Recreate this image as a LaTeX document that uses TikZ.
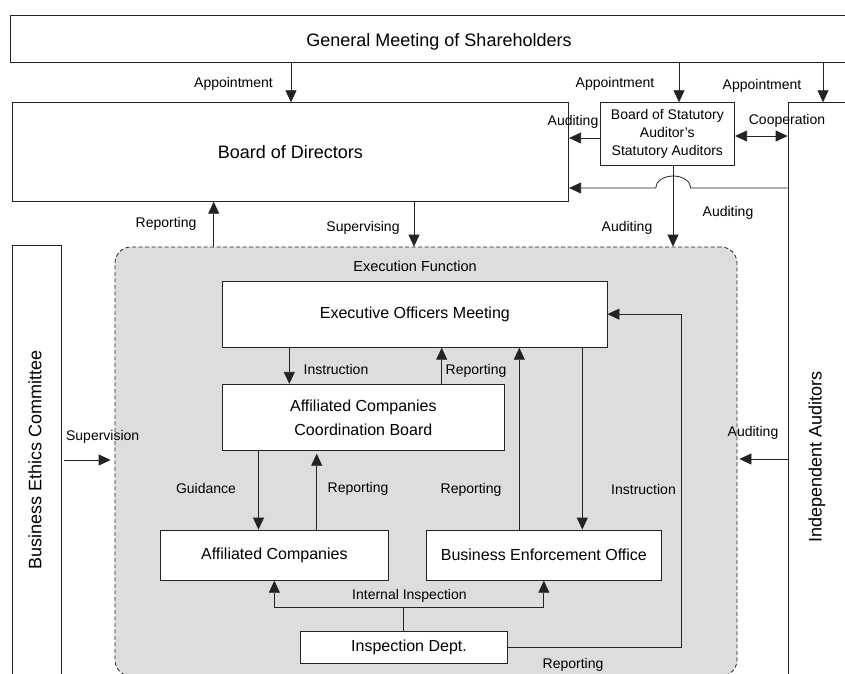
\documentclass[tikz,border=0pt]{standalone}
\usepackage{fontspec}
\setmainfont{Liberation Sans}
\usetikzlibrary{arrows.meta,calc}
\definecolor{execgray}{RGB}{221,221,221}
\definecolor{linegray}{RGB}{35,35,35}
\begin{document}
\begin{tikzpicture}[x=1pt,y=-1pt,
  box/.style={draw=linegray, fill=white, line width=0.8pt, inner sep=0pt, anchor=center},
  tip/.tip={Triangle[length=12pt,width=11pt]},
  arr/.style={draw=linegray, line width=0.8pt, -tip},
  ln/.style={draw=linegray, line width=0.8pt},
  lbl/.style={font=\fontsize{14}{16}\selectfont, inner sep=0pt},
  big/.style={font=\fontsize{18}{21}\selectfont},
  mid/.style={font=\fontsize{16}{24}\selectfont}]
\useasboundingbox (0,0) rectangle (845,673);

% execution function area
\node[draw=linegray, line width=0.8pt, dash pattern=on 4pt off 2.5pt, rounded corners=16pt,
  fill=execgray, minimum width=622pt, minimum height=429pt, inner sep=0pt] (exec) at (426,461.5) {};
\node[lbl, font=\fontsize{14.5}{16}\selectfont] (execlbl) at (415,266) {Execution Function};

% top level boxes
\node[box, minimum width=839.3pt, minimum height=47.7pt] (gm) at (430.35,38.85) {};
\node[big] (gmlbl) at (439,42) {General Meeting of Shareholders};
\node[box, big, minimum width=556.7pt, minimum height=98.6pt] (bod) at (290.35,152) {Board of Directors};
\node[box, align=center, font=\fontsize{14}{18}\selectfont, minimum width=134.7pt, minimum height=62.6pt] (sa) at (667.35,134) {Board of Statutory\\Auditor’s\\Statutory Auditors};
\node[box, minimum width=112pt, minimum height=617.3pt] (ia) at (844,411.35) {};
\node[big, rotate=90] (ialbl) at (817,457) {Independent Auditors};
\node[box, minimum width=48.3pt, minimum height=474.3pt] (bec) at (36.85,482.85) {};
\node[big, rotate=90] (beclbl) at (35,460) {Business Ethics Committee};

% inner boxes
\node[box, mid, minimum width=384.3pt, minimum height=66.3pt] (eom) at (414.85,314.15) {Executive Officers Meeting};
\node[box, mid, align=center, minimum width=281.3pt, minimum height=66pt] (accb) at (363.35,417.3) {Affiliated Companies\\Coordination Board};
\node[box, mid, minimum width=228.7pt, minimum height=50.3pt] (ac) at (274.35,555.15) {Affiliated Companies};
\node[box, mid, minimum width=234.3pt, minimum height=50.3pt] (beo) at (543.85,555.15) {Business Enforcement Office};
\node[box, mid, minimum width=207pt, minimum height=31.7pt] (insp) at (404,647.45) {\hspace*{10pt}Inspection Dept.};

% connectors, top level
\draw[arr] (291,0 |- gm.south) -- (291,0 |- bod.north);
\node[lbl] at (233.5,84) {Appointment};
\draw[arr] (679,0 |- gm.south) -- (679,0 |- sa.north);
\node[lbl] at (615,84) {Appointment};
\draw[arr] (823,0 |- gm.south) -- (823,0 |- ia.north);
\node[lbl] at (762,86) {Appointment};

\draw[arr] (sa.west |- 0,138) -- (bod.east |- 0,138);
\node[lbl] at (573,122) {Auditing};
\draw[ln, tip-tip] (sa.east |- 0,136) -- (ia.west |- 0,136);
\node[lbl] at (787,121) {Cooperation};

\draw[arr] (ia.west |- 0,188) -- (690.7,188) arc[start angle=0, end angle=-180, x radius=17.5, y radius=12] -- (bod.east |- 0,188);
\node[lbl] at (728,213) {Auditing};
\draw[arr] (673,0 |- sa.south) -- (673,0 |- exec.north);
\node[lbl] at (627,228) {Auditing};

\draw[arr] (414,0 |- bod.south) -- (414,0 |- exec.north);
\node[lbl] at (363,228) {Supervising};
\draw[arr] (213.7,0 |- exec.north) -- (213.7,0 |- bod.south);
\node[lbl] at (166,224) {Reporting};

\draw[arr] ($(bec.east |- 0,460)+(3,0)$) -- ($(exec.west |- 0,460)+(-4,0)$);
\node[lbl] at (102.7,437) {Supervision};
\draw[arr] (ia.west |- 0,459) -- ($(exec.east |- 0,459)+(2,0)$);
\node[lbl] at (753,433) {Auditing};

% inner connectors
\draw[arr] (289.3,0 |- eom.south) -- (289.3,0 |- accb.north);
\node[lbl] at (336,369) {Instruction};
\draw[arr] (441.7,0 |- accb.north) -- (441.7,0 |- eom.south);
\node[lbl] at (476,371) {Reporting};
\draw[arr] (519.3,0 |- beo.north) -- (519.3,0 |- eom.south);
\node[lbl] at (471,490) {Reporting};
\draw[arr] (582.3,0 |- eom.south) -- (582.3,0 |- beo.north);
\node[lbl] at (643.5,489) {Instruction};
\draw[arr] (258.5,0 |- accb.south) -- (258.5,0 |- ac.north);
\node[lbl] at (206,488) {Guidance};
\draw[arr] (316.7,0 |- ac.north) -- ($(316.7,0 |- accb.south)+(0,3)$);
\node[lbl] at (358,489) {Reporting};

\coordinate (bus) at (403.5,607);
\draw[ln] (insp.north -| bus) -- (bus);
\draw[arr] (bus) -| (ac.south);
\draw[arr] (bus) -| (beo.south);
\node[lbl] at (409.4,596) {Internal Inspection};
\draw[arr] (insp.east |- 0,647) -- (681.7,647) |- (eom.east);
\node[lbl] at (573,665) {Reporting};
\end{tikzpicture}
\end{document}
